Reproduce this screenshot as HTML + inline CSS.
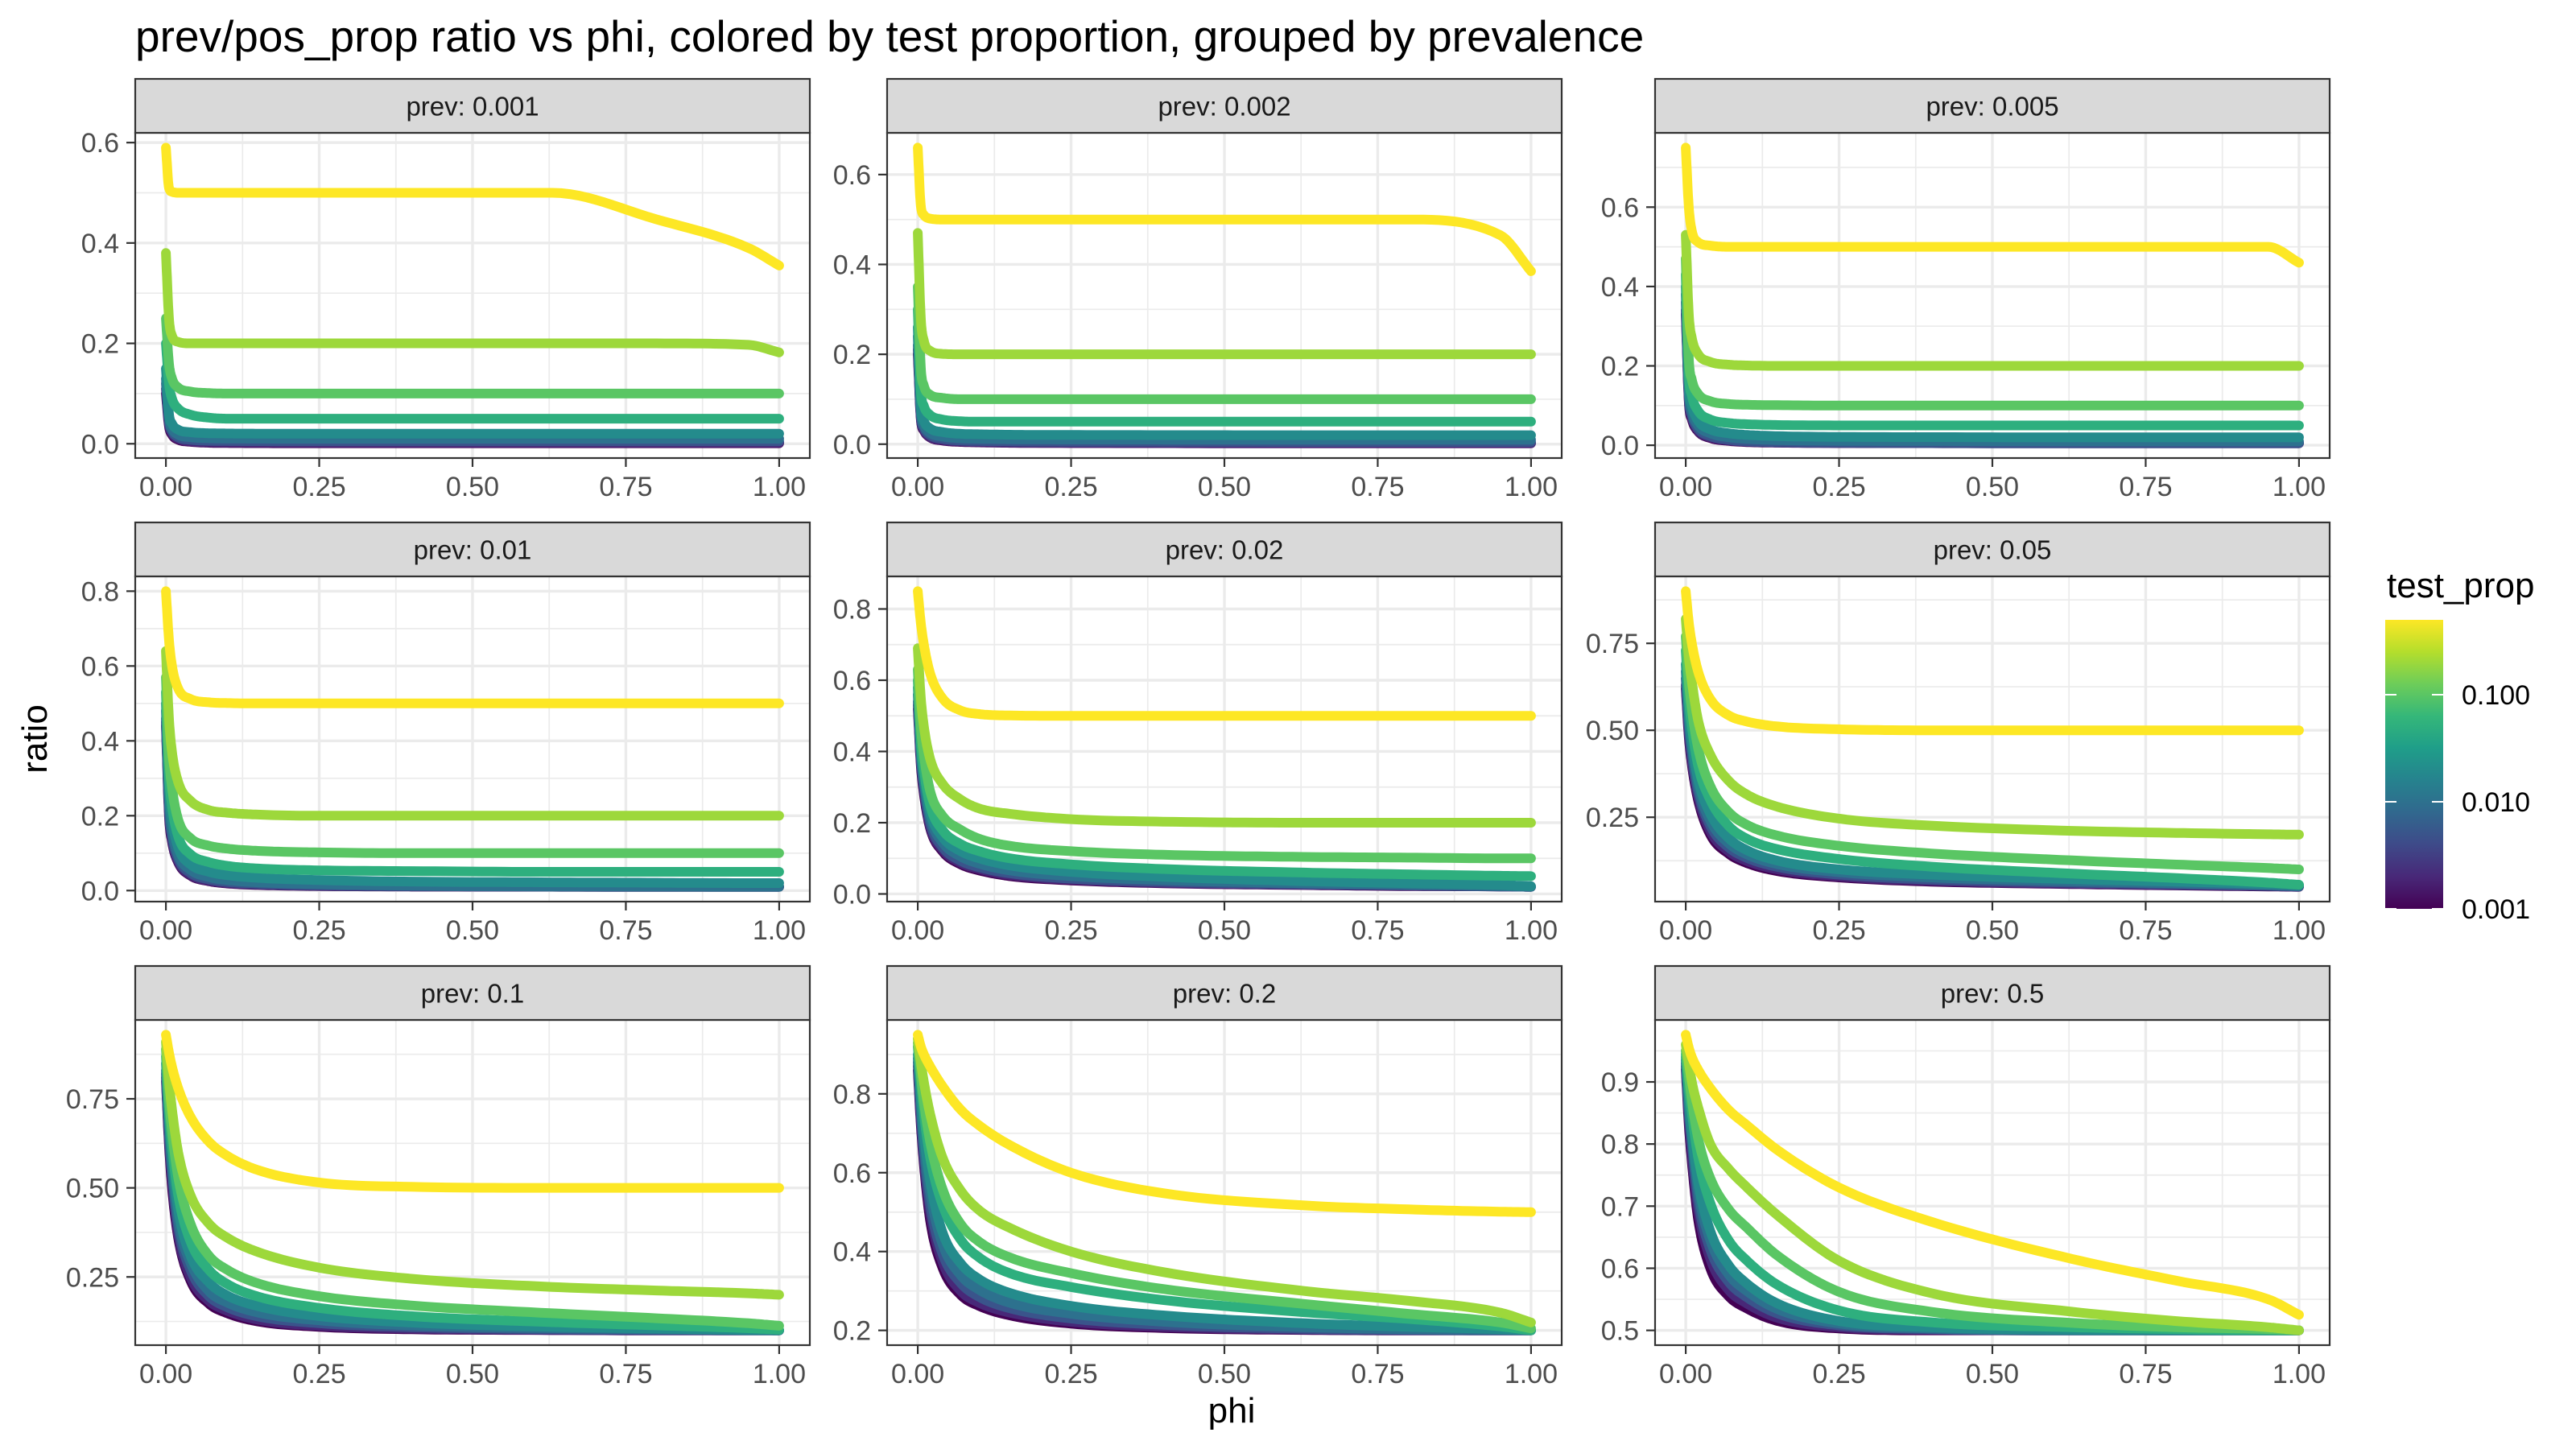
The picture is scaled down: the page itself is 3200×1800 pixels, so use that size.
<!DOCTYPE html>
<html><head><meta charset="utf-8"><style>
html,body{margin:0;padding:0;background:#fff;}
svg{display:block;font-family:"Liberation Sans",Arial,sans-serif;}
</style></head><body>
<svg id="chart" width="3200" height="1800" viewBox="0 0 3200 1800" xmlns="http://www.w3.org/2000/svg">
<defs>
<linearGradient id="vir" x1="0" y1="1" x2="0" y2="0">
<stop offset="0" stop-color="#440154"/><stop offset="0.111" stop-color="#482878"/><stop offset="0.222" stop-color="#3E4A89"/><stop offset="0.333" stop-color="#31688E"/><stop offset="0.444" stop-color="#26828E"/><stop offset="0.556" stop-color="#1F9E89"/><stop offset="0.667" stop-color="#35B779"/><stop offset="0.778" stop-color="#6DCD59"/><stop offset="0.889" stop-color="#B4DE2C"/><stop offset="1" stop-color="#FDE725"/>
</linearGradient>
</defs>
<text x="168" y="64" font-size="55" fill="#000">prev/pos_prop ratio vs phi, colored by test proportion, grouped by prevalence</text>
<text x="1530" y="1767" font-size="44" text-anchor="middle" fill="#000">phi</text>
<text x="0" y="0" font-size="44" text-anchor="middle" fill="#000" transform="translate(58,918) rotate(-90)">ratio</text>
<g id="panels"></g>
<g>
<text x="2965" y="742" font-size="44" fill="#000">test_prop</text>
<rect x="2963" y="770" width="72" height="359" fill="url(#vir)"/>
<g id="legend-ticks"></g>
</g>
</svg>
<script>
const PHI = [0,0.005,0.01,0.02,0.04,0.07,0.1,0.15,0.25,0.4,0.63,0.8,0.95,1.0];
const TEST_PROPS = [0.001,0.002,0.005,0.01,0.02,0.05,0.1,0.2,0.5];
const PREVS = ["0.001","0.002","0.005","0.01","0.02","0.05","0.1","0.2","0.5"];
const ratio_prev_0_001 = [
[0.10,0.035,0.018,0.008,0.004,0.002,0.0015,0.0012,0.001,0.001,0.001,0.001,0.001,0.001],
[0.11,0.04,0.021,0.01,0.005,0.003,0.0025,0.0022,0.002,0.002,0.002,0.002,0.002,0.002],
[0.12,0.045,0.025,0.013,0.008,0.006,0.0055,0.0052,0.005,0.005,0.005,0.005,0.005,0.005],
[0.13,0.05,0.03,0.018,0.013,0.011,0.0105,0.0102,0.01,0.01,0.01,0.01,0.01,0.01],
[0.15,0.06,0.04,0.028,0.023,0.021,0.0205,0.0202,0.02,0.02,0.02,0.02,0.02,0.02],
[0.2,0.12,0.09,0.07,0.058,0.052,0.05,0.05,0.05,0.05,0.05,0.05,0.05,0.05],
[0.25,0.16,0.13,0.112,0.104,0.101,0.1,0.1,0.1,0.1,0.1,0.1,0.1,0.1],
[0.38,0.25,0.215,0.203,0.2,0.2,0.2,0.2,0.2,0.2,0.2,0.2,0.197,0.182],
[0.59,0.51,0.502,0.5,0.5,0.5,0.5,0.5,0.5,0.5,0.5,0.447,0.39,0.355]];
const ratio_prev_0_002 = [
[0.20,0.055,0.03,0.015,0.008,0.005,0.004,0.003,0.0025,0.0022,0.002,0.002,0.002,0.002],
[0.21,0.058,0.032,0.016,0.009,0.006,0.0045,0.0035,0.0028,0.0023,0.002,0.002,0.002,0.002],
[0.22,0.065,0.036,0.02,0.012,0.008,0.007,0.006,0.0055,0.0052,0.005,0.005,0.005,0.005],
[0.24,0.072,0.042,0.025,0.017,0.013,0.012,0.011,0.0105,0.0102,0.01,0.01,0.01,0.01],
[0.26,0.085,0.052,0.035,0.027,0.023,0.022,0.021,0.0205,0.0202,0.02,0.02,0.02,0.02],
[0.3,0.12,0.085,0.065,0.055,0.051,0.05,0.05,0.05,0.05,0.05,0.05,0.05,0.05],
[0.35,0.17,0.13,0.11,0.103,0.1,0.1,0.1,0.1,0.1,0.1,0.1,0.1,0.1],
[0.47,0.28,0.23,0.208,0.201,0.2,0.2,0.2,0.2,0.2,0.2,0.2,0.2,0.2],
[0.66,0.53,0.51,0.502,0.5,0.5,0.5,0.5,0.5,0.5,0.5,0.5,0.465,0.385]];
const ratio_prev_0_005 = [
[0.33,0.11,0.065,0.035,0.018,0.011,0.008,0.0065,0.0055,0.0052,0.005,0.005,0.005,0.005],
[0.34,0.115,0.07,0.037,0.02,0.012,0.009,0.007,0.0058,0.0053,0.005,0.005,0.005,0.005],
[0.36,0.125,0.076,0.042,0.023,0.014,0.01,0.008,0.0065,0.0055,0.005,0.005,0.005,0.005],
[0.38,0.135,0.085,0.05,0.03,0.02,0.016,0.013,0.011,0.0105,0.01,0.01,0.01,0.01],
[0.40,0.15,0.1,0.062,0.04,0.03,0.026,0.023,0.021,0.0205,0.02,0.02,0.02,0.02],
[0.43,0.18,0.125,0.087,0.065,0.056,0.053,0.051,0.05,0.05,0.05,0.05,0.05,0.05],
[0.47,0.22,0.165,0.13,0.111,0.104,0.102,0.101,0.1,0.1,0.1,0.1,0.1,0.1],
[0.53,0.33,0.27,0.23,0.21,0.203,0.201,0.2,0.2,0.2,0.2,0.2,0.2,0.2],
[0.75,0.6,0.54,0.512,0.503,0.5,0.5,0.5,0.5,0.5,0.5,0.5,0.5,0.46]];
const ratio_prev_0_01 = [
[0.44,0.2,0.13,0.075,0.04,0.025,0.019,0.015,0.012,0.011,0.0102,0.01,0.01,0.01],
[0.45,0.21,0.135,0.078,0.042,0.026,0.02,0.016,0.0125,0.011,0.0103,0.01,0.01,0.01],
[0.46,0.22,0.145,0.085,0.047,0.03,0.023,0.018,0.014,0.012,0.0105,0.01,0.01,0.01],
[0.48,0.24,0.16,0.095,0.055,0.036,0.028,0.022,0.017,0.013,0.011,0.0105,0.01,0.01],
[0.5,0.27,0.19,0.115,0.07,0.05,0.041,0.034,0.028,0.024,0.022,0.021,0.02,0.02],
[0.53,0.31,0.225,0.145,0.097,0.076,0.066,0.059,0.054,0.052,0.05,0.05,0.05,0.05],
[0.57,0.36,0.275,0.19,0.14,0.12,0.112,0.106,0.102,0.1,0.1,0.1,0.1,0.1],
[0.64,0.46,0.37,0.29,0.24,0.215,0.208,0.203,0.2,0.2,0.2,0.2,0.2,0.2],
[0.80,0.67,0.6,0.54,0.512,0.503,0.501,0.5,0.5,0.5,0.5,0.5,0.5,0.5]];
const ratio_prev_0_02 = [
[0.52,0.36,0.28,0.185,0.12,0.083,0.066,0.05,0.038,0.03,0.025,0.022,0.021,0.02],
[0.53,0.37,0.29,0.19,0.125,0.087,0.07,0.053,0.04,0.031,0.026,0.023,0.021,0.02],
[0.54,0.38,0.30,0.2,0.132,0.093,0.075,0.058,0.043,0.034,0.027,0.024,0.021,0.02],
[0.56,0.395,0.315,0.215,0.145,0.105,0.085,0.066,0.05,0.039,0.03,0.026,0.022,0.02],
[0.58,0.41,0.33,0.23,0.16,0.12,0.1,0.08,0.062,0.048,0.036,0.03,0.025,0.022],
[0.6,0.43,0.35,0.25,0.18,0.14,0.12,0.1,0.083,0.07,0.06,0.055,0.051,0.05],
[0.63,0.47,0.39,0.29,0.22,0.18,0.155,0.135,0.12,0.11,0.104,0.102,0.1,0.1],
[0.69,0.55,0.47,0.38,0.31,0.265,0.24,0.225,0.21,0.203,0.2,0.2,0.2,0.2],
[0.85,0.76,0.7,0.62,0.55,0.515,0.505,0.501,0.5,0.5,0.5,0.5,0.5,0.5]];
const ratio_prev_0_05 = [
[0.62,0.48,0.4,0.3,0.2,0.145,0.118,0.095,0.077,0.065,0.058,0.054,0.051,0.05],
[0.63,0.49,0.41,0.31,0.21,0.152,0.124,0.1,0.08,0.067,0.059,0.055,0.052,0.05],
[0.65,0.51,0.43,0.325,0.225,0.163,0.133,0.107,0.085,0.071,0.062,0.057,0.053,0.051],
[0.67,0.53,0.45,0.34,0.24,0.175,0.143,0.115,0.092,0.077,0.066,0.06,0.055,0.052],
[0.69,0.55,0.47,0.36,0.26,0.19,0.155,0.125,0.1,0.085,0.072,0.065,0.058,0.055],
[0.73,0.59,0.51,0.4,0.3,0.225,0.188,0.158,0.13,0.108,0.088,0.075,0.062,0.056],
[0.77,0.64,0.56,0.45,0.34,0.265,0.228,0.197,0.168,0.146,0.126,0.114,0.104,0.1],
[0.82,0.71,0.64,0.53,0.43,0.355,0.315,0.28,0.246,0.226,0.211,0.205,0.201,0.2],
[0.9,0.81,0.75,0.67,0.59,0.543,0.525,0.511,0.503,0.5,0.5,0.5,0.5,0.5]];
const ratio_prev_0_1 = [
[0.8,0.62,0.5,0.36,0.24,0.175,0.148,0.125,0.11,0.103,0.101,0.1,0.1,0.1],
[0.81,0.63,0.52,0.37,0.25,0.183,0.155,0.13,0.113,0.105,0.101,0.1,0.1,0.1],
[0.82,0.65,0.54,0.39,0.27,0.196,0.165,0.139,0.12,0.109,0.103,0.101,0.1,0.1],
[0.83,0.67,0.56,0.41,0.29,0.21,0.178,0.15,0.128,0.114,0.106,0.103,0.101,0.1],
[0.85,0.69,0.59,0.44,0.31,0.235,0.198,0.168,0.14,0.122,0.11,0.105,0.101,0.1],
[0.87,0.72,0.62,0.48,0.35,0.27,0.23,0.195,0.163,0.14,0.123,0.114,0.106,0.102],
[0.89,0.75,0.66,0.53,0.4,0.31,0.27,0.232,0.196,0.17,0.148,0.134,0.12,0.113],
[0.91,0.8,0.72,0.6,0.48,0.4,0.36,0.32,0.276,0.245,0.222,0.212,0.204,0.2],
[0.93,0.88,0.84,0.78,0.7,0.63,0.59,0.55,0.515,0.503,0.5,0.5,0.5,0.5]];
const ratio_prev_0_2 = [
[0.86,0.72,0.62,0.48,0.36,0.29,0.262,0.238,0.217,0.206,0.201,0.2,0.2,0.2],
[0.87,0.73,0.63,0.5,0.375,0.3,0.27,0.245,0.222,0.209,0.202,0.2,0.2,0.2],
[0.88,0.75,0.65,0.52,0.395,0.32,0.285,0.256,0.23,0.214,0.204,0.201,0.2,0.2],
[0.89,0.77,0.67,0.55,0.42,0.34,0.303,0.27,0.242,0.222,0.208,0.203,0.201,0.2],
[0.9,0.79,0.7,0.58,0.45,0.37,0.33,0.295,0.262,0.238,0.218,0.209,0.203,0.2],
[0.92,0.83,0.75,0.64,0.52,0.43,0.385,0.345,0.31,0.277,0.246,0.229,0.21,0.2],
[0.93,0.85,0.78,0.68,0.56,0.47,0.425,0.385,0.345,0.305,0.267,0.242,0.22,0.205],
[0.94,0.88,0.83,0.75,0.64,0.555,0.505,0.46,0.4,0.348,0.3,0.275,0.245,0.22],
[0.95,0.92,0.9,0.87,0.82,0.76,0.72,0.67,0.6,0.548,0.517,0.507,0.501,0.5]];
const ratio_prev_0_5 = [
[0.92,0.83,0.77,0.68,0.6,0.555,0.535,0.515,0.503,0.5,0.5,0.5,0.5,0.5],
[0.925,0.84,0.78,0.695,0.615,0.565,0.543,0.52,0.505,0.501,0.5,0.5,0.5,0.5],
[0.93,0.85,0.8,0.71,0.63,0.578,0.553,0.527,0.508,0.502,0.5,0.5,0.5,0.5],
[0.935,0.86,0.81,0.725,0.645,0.59,0.563,0.534,0.511,0.503,0.5,0.5,0.5,0.5],
[0.94,0.87,0.82,0.74,0.66,0.605,0.575,0.543,0.515,0.505,0.501,0.5,0.5,0.5],
[0.945,0.89,0.85,0.78,0.705,0.645,0.612,0.573,0.532,0.513,0.505,0.502,0.5,0.5],
[0.95,0.91,0.87,0.81,0.745,0.695,0.665,0.62,0.562,0.53,0.512,0.505,0.502,0.5],
[0.96,0.93,0.9,0.86,0.8,0.76,0.73,0.685,0.612,0.56,0.53,0.515,0.505,0.5],
[0.976,0.955,0.94,0.92,0.89,0.855,0.83,0.79,0.73,0.675,0.615,0.58,0.55,0.525]];
const PANEL_DATA = [ratio_prev_0_001,ratio_prev_0_002,ratio_prev_0_005,ratio_prev_0_01,ratio_prev_0_02,ratio_prev_0_05,ratio_prev_0_1,ratio_prev_0_2,ratio_prev_0_5];
const Y_BREAKS = [[0,0.2,0.4,0.6],[0,0.2,0.4,0.6],[0,0.2,0.4,0.6],[0,0.2,0.4,0.6,0.8],[0,0.2,0.4,0.6,0.8],[0.25,0.5,0.75],[0.25,0.5,0.75],[0.2,0.4,0.6,0.8],[0.5,0.6,0.7,0.8,0.9]];
const Y_LABELS = [["0.0","0.2","0.4","0.6"],["0.0","0.2","0.4","0.6"],["0.0","0.2","0.4","0.6"],["0.0","0.2","0.4","0.6","0.8"],["0.0","0.2","0.4","0.6","0.8"],["0.25","0.50","0.75"],["0.25","0.50","0.75"],["0.2","0.4","0.6","0.8"],["0.5","0.6","0.7","0.8","0.9"]];
const X_BREAKS = [0,0.25,0.5,0.75,1];
const X_LABELS = ["0.00","0.25","0.50","0.75","1.00"];
const LEGEND_BREAKS = [0.001,0.01,0.1];
const LEGEND_LABELS = ["0.001","0.010","0.100"];

const NS="http://www.w3.org/2000/svg";
const COL_X=[168,1102,2056], ROW_Y=[165,716,1267], PW=838, PH=404, SH=67;
const VIR=["#440154","#482878","#3E4A89","#31688E","#26828E","#1F9E89","#35B779","#6DCD59","#B4DE2C","#FDE725"];
const T_MIN=0.001, T_MAX=0.5;
function hex(c){return [1,3,5].map(i=>parseInt(c.substr(i,2),16));}
function viridis(p){p=Math.max(0,Math.min(1,p));const s=p*(VIR.length-1);const i=Math.min(VIR.length-2,Math.floor(s));const f=s-i;const a=hex(VIR[i]),b=hex(VIR[i+1]);return "rgb("+a.map((v,k)=>Math.round(v+(b[k]-v)*f)).join(",")+")";}
function colorScale(t){return viridis(Math.log(t/T_MIN)/Math.log(T_MAX/T_MIN));}
function mk(tag,attrs,parent){const e=document.createElementNS(NS,tag);for(const k in attrs)e.setAttribute(k,attrs[k]);parent.appendChild(e);return e;}
function monotone(xs,ys,n){const m=xs.length,d=[],t=new Array(m).fill(0);for(let i=0;i<m-1;i++)d.push((ys[i+1]-ys[i])/(xs[i+1]-xs[i]));t[0]=d[0];t[m-1]=d[m-2];for(let i=1;i<m-1;i++){t[i]=(d[i-1]*d[i]<=0)?0:(d[i-1]+d[i])/2;}
for(let i=0;i<m-1;i++){if(d[i]===0){t[i]=0;t[i+1]=0;continue;}const a=t[i]/d[i],b=t[i+1]/d[i],h=a*a+b*b;if(h>9){const s=3/Math.sqrt(h);t[i]=s*a*d[i];t[i+1]=s*b*d[i];}}
const out=[];for(let i=0;i<m-1;i++){const h=xs[i+1]-xs[i];for(let k=0;k<n;k++){const u=k/n,h00=2*u*u*u-3*u*u+1,h10=u*u*u-2*u*u+u,h01=-2*u*u*u+3*u*u,h11=u*u*u-u*u;out.push([xs[i]+u*h,h00*ys[i]+h10*h*t[i]+h01*ys[i+1]+h11*h*t[i+1]]);}}out.push([xs[m-1],ys[m-1]]);return out;}

const root=document.getElementById('panels');
PANEL_DATA.forEach((series,pi)=>{
  const px=COL_X[pi%3], py=ROW_Y[Math.floor(pi/3)];
  const g=mk('g',{},root);
  
  
  let lo=Infinity,hi=-Infinity;series.forEach(s=>s.forEach(v=>{lo=Math.min(lo,v);hi=Math.max(hi,v);}));
  const r=hi-lo, yMin=lo-0.05*r, yMax=hi+0.05*r;
  const xS=v=>px+(v+0.05)/1.1*PW;
  const yS=v=>py+PH-(v-yMin)/(yMax-yMin)*PH;
  mk('rect',{x:px,y:py,width:PW,height:PH,fill:'#fff'},g);
  const brk=Y_BREAKS[pi], step=brk[1]-brk[0];
  const minors=[];for(let v=brk[0]-step/2;v<=brk[brk.length-1]+step/2+1e-9;v+=step){if(v>=yMin&&v<=yMax)minors.push(v);}
  minors.forEach(v=>{const l=mk('line',{x1:px,x2:px+PW,y1:yS(v),y2:yS(v),stroke:'#EBEBEB','stroke-width':1.7},g);});
  [0.125,0.375,0.625,0.875].forEach(v=>{const l=mk('line',{x1:xS(v),x2:xS(v),y1:py,y2:py+PH,stroke:'#EBEBEB','stroke-width':1.7},g);});
  brk.forEach(v=>{const l=mk('line',{x1:px,x2:px+PW,y1:yS(v),y2:yS(v),stroke:'#EBEBEB','stroke-width':3.4},g);});
  X_BREAKS.forEach(v=>{const l=mk('line',{x1:xS(v),x2:xS(v),y1:py,y2:py+PH,stroke:'#EBEBEB','stroke-width':3.4},g);});
  const cg=mk('g',{},g);
  series.forEach((vals,si)=>{
    const pts=monotone(PHI,vals,12).map(p=>xS(p[0]).toFixed(1)+','+yS(p[1]).toFixed(1)).join(' ');
    const pl=mk('polyline',{points:pts,fill:'none',stroke:colorScale(TEST_PROPS[si]),'stroke-width':12,'stroke-linecap':'round','stroke-linejoin':'round'},cg);
    
    
  });
  mk('rect',{x:px,y:py,width:PW,height:PH,fill:'none',stroke:'#333333','stroke-width':2.2},g);
  const st=mk('rect',{x:px,y:py-SH,width:PW,height:SH,fill:'#D9D9D9',stroke:'#333333','stroke-width':2.2},g);
  
  
  const stt=mk('text',{x:px+PW/2,y:py-SH/2+12,'font-size':33,'text-anchor':'middle',fill:'#1A1A1A'},g);
  stt.textContent='prev: '+PREVS[pi];
  
  
  brk.forEach((v,i)=>{
    mk('line',{x1:px-11,x2:px,y1:yS(v),y2:yS(v),stroke:'#333333','stroke-width':2.2},g);
    const t=mk('text',{x:px-20,y:yS(v)+12,'font-size':34,'text-anchor':'end',fill:'#4D4D4D'},g);
    t.textContent=Y_LABELS[pi][i];
    
    
  });
  X_BREAKS.forEach((v,i)=>{
    mk('line',{x1:xS(v),x2:xS(v),y1:py+PH,y2:py+PH+11,stroke:'#333333','stroke-width':2.2},g);
    const t=mk('text',{x:xS(v),y:py+PH+47,'font-size':34,'text-anchor':'middle',fill:'#4D4D4D'},g);
    t.textContent=X_LABELS[i];
    
    
  });
});
const lg=document.getElementById('legend-ticks');
const LB_TOP=770, LB_BOT=1129, LB_X=2963, LB_W=72;
const lY=v=>LB_BOT-Math.log(v/T_MIN)/Math.log(T_MAX/T_MIN)*(LB_BOT-LB_TOP);
LEGEND_BREAKS.forEach((v,i)=>{
  const y=lY(v);
  mk('line',{x1:LB_X,x2:LB_X+14,y1:y,y2:y,stroke:'#fff','stroke-width':2},lg);
  mk('line',{x1:LB_X+LB_W-14,x2:LB_X+LB_W,y1:y,y2:y,stroke:'#fff','stroke-width':2},lg);
  const t=mk('text',{x:3058,y:y+12,'font-size':34,fill:'#000'},lg);
  t.textContent=LEGEND_LABELS[i];
  
  
});
</script>
</body></html>
